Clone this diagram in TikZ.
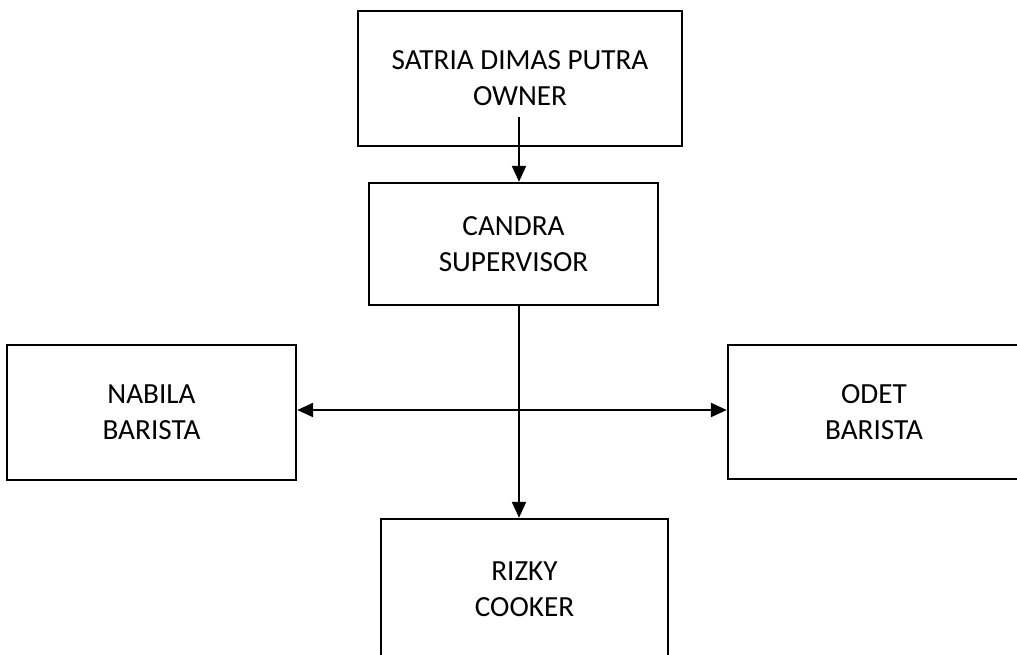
\documentclass[tikz,border=0pt]{standalone}
\usepackage{fontspec}
\setmainfont{Carlito}
\usetikzlibrary{arrows.meta}
\begin{document}
\begin{tikzpicture}[x=1pt,y=-1pt,
  box/.style={draw=black,line width=2.4pt,fill=white,align=center,inner sep=0pt,
    font=\fontsize{29.2}{36}\selectfont},
  arr/.style={line width=2.3pt,-{Triangle[length=16pt,width=14pt]}},
  darr/.style={line width=2.3pt,{Triangle[length=16pt,width=14pt]}-{Triangle[length=16pt,width=14pt]}}]
\useasboundingbox (0,0) rectangle (1017,655);
\clip (0,0) rectangle (1017,655);
\fill[white] (0,0) rectangle (1017,655);
\node[box,minimum width=324pt,minimum height=135pt] (owner) at (520,78.5) {SATRIA DIMAS PUTRA\\OWNER};
\node[box,minimum width=289pt,minimum height=122pt] (candra) at (513.5,244) {CANDRA\\SUPERVISOR};
\node[box,minimum width=289pt,minimum height=135pt] (nabila) at (151.5,412.5) {NABILA\\BARISTA};
\node[box,minimum width=292pt,minimum height=134pt] (odet) at (874,412) {ODET\\BARISTA};
\node[box,minimum width=287pt,minimum height=140pt] (rizky) at (524.5,589) {RIZKY\\COOKER};
\coordinate (a1) at (519,117);
\coordinate (j) at (519,410);
\draw[arr] (a1) -- (a1 |- candra.north);
\draw[arr] (candra.south -| a1) -- (rizky.north -| a1);
\draw[darr] (nabila.east |- j) -- (odet.west |- j);
\end{tikzpicture}
\end{document}
